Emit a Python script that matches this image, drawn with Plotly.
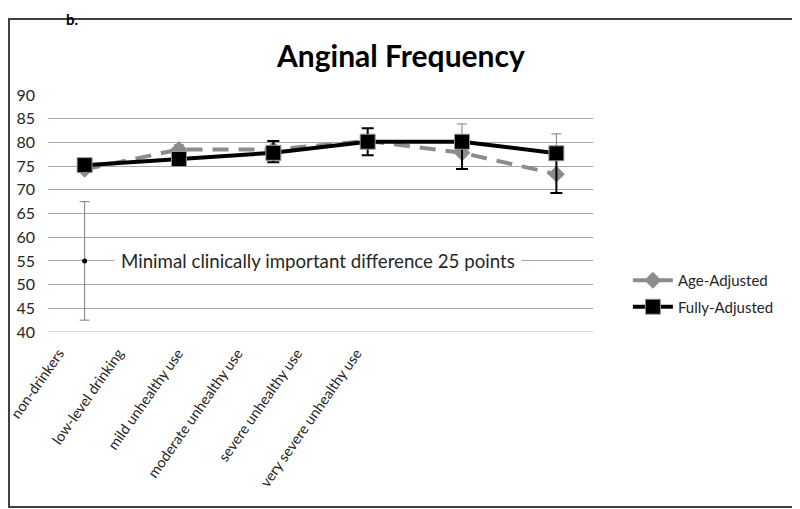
import plotly.graph_objects as go

categories = ["non-drinkers", "low-level drinking", "mild unhealthy use",
              "moderate unhealthy use", "severe unhealthy use", "very severe unhealthy use"]
age_adjusted = [74.3, 78.5, 78.5, 80.3, 77.8, 73.3]
age_err_plus = [0, 1.0, 0, 0, 6.1, 8.5]
age_err_minus = [0, 0, 0, 0, 0, 0]
fully_adjusted = [75.2, 76.5, 77.8, 80.15, 80.15, 77.7]
full_err_plus = [0, 0, 2.5, 2.85, 0, 0]
full_err_minus = [0, 0, 2.0, 2.85, 5.75, 8.4]
mcid_category = ["non-drinkers"]
mcid_value = [55]
mcid_half = [12.5]
y_ticks = [40, 45, 50, 55, 60, 65, 70, 75, 80, 85, 90]

FONT = "Lato"
fig = go.Figure()

fig.add_trace(go.Scatter(
    x=mcid_category, y=mcid_value, mode="markers", showlegend=False,
    marker=dict(symbol="circle", size=5, color="black"),
    error_y=dict(type="data", array=mcid_half, color="#7f7f7f", thickness=1, width=5),
))

fig.add_trace(go.Scatter(
    x=categories, y=age_adjusted, name="Age-Adjusted", mode="lines+markers",
    legendgroup="a",
    line=dict(color="#8c8c8c", width=4, dash="16px,10px"),
    marker=dict(symbol="diamond", size=13, color="#8c8c8c"),
    error_y=dict(type="data", symmetric=False, array=age_err_plus, arrayminus=age_err_minus,
                 color="#7f7f7f", thickness=1, width=5),
))

fig.add_trace(go.Scatter(
    x=categories, y=fully_adjusted, name="Fully-Adjusted", mode="lines+markers",
    legendgroup="b",
    line=dict(color="black", width=4),
    marker=dict(symbol="square", size=15, color="black", line=dict(color="#9a9a9a", width=1)),
    error_y=dict(type="data", symmetric=False, array=full_err_plus, arrayminus=full_err_minus,
                 color="black", thickness=2, width=6),
))

# hidden helper axis used only to place the rotated category labels
fig.add_trace(go.Scatter(x=[0, 5], y=[40, 40], xaxis="x2", mode="markers",
                         marker=dict(opacity=0), showlegend=False, hoverinfo="skip"))

fig.update_layout(
    width=792, height=501,
    margin=dict(l=40, r=207, t=87, b=177, autoexpand=False),
    paper_bgcolor="white", plot_bgcolor="white",
    font=dict(family=FONT, color="#262626"),
    xaxis=dict(type="category", showticklabels=False, showgrid=False, zeroline=False,
               showline=False, ticks=""),
    xaxis2=dict(overlaying="x", range=[-0.184, 8.976], tickvals=[0, 1, 2, 3, 4, 5],
                ticktext=categories, tickangle=-55, showgrid=False, zeroline=False,
                showline=False, ticks="", ticklabelstandoff=9, ticklabeloverflow="allow",
                automargin=False,
                tickfont=dict(size=14.5, family=FONT, color="#262626")),
    yaxis=dict(range=[40, 90], tickvals=y_ticks, showgrid=True, gridcolor="#a6a6a6",
               gridwidth=1, zeroline=False, showline=False, ticks="", automargin=False,
               ticklabelstandoff=12,
               tickfont=dict(size=16, family=FONT, color="#262626")),
    legend=dict(x=1.064, xanchor="left", y=0.287, yanchor="top",
                font=dict(size=15, family=FONT, color="#262626"),
                bgcolor="rgba(0,0,0,0)", itemwidth=40, tracegroupgap=4),
    showlegend=True,
)

fig.add_annotation(text="<b>Anginal Frequency</b>", xref="paper", yref="paper",
                   x=0.646, y=1.169, xanchor="center", yanchor="middle", showarrow=False,
                   font=dict(size=30, family=FONT, color="black"))
fig.add_annotation(text="<b>b.</b>", xref="paper", yref="paper", x=0.044, y=1.362,
                   xanchor="center", yanchor="top", showarrow=False, borderpad=0,
                   font=dict(size=15, family=FONT, color="black"))
fig.add_annotation(text="Minimal clinically important difference 25 points",
                   xref="paper", yref="y", x=0.121, y=55, xanchor="left", yanchor="middle",
                   showarrow=False, bgcolor="white", borderpad=6,
                   font=dict(size=18.7, family=FONT, color="#262626"))
fig.add_shape(type="rect", xref="paper", yref="paper", x0=-0.0716, x1=1.3743,
              y0=-0.7384, y1=1.3207, line=dict(color="#404040", width=2), layer="below")
fig.add_shape(type="line", xref="paper", yref="y", x0=0, x1=1, y0=40, y1=40,
              line=dict(color="#a6a6a6", width=1))

fig.write_html("out.html")
